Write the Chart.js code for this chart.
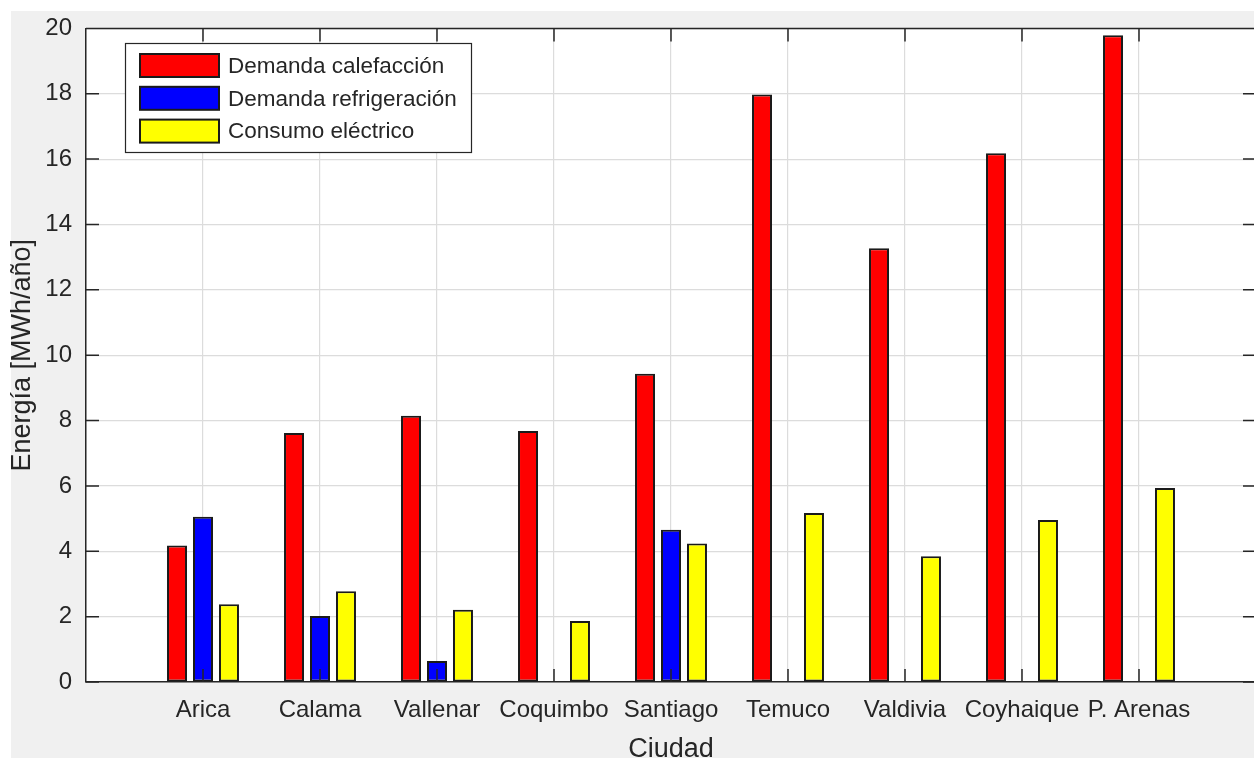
<!DOCTYPE html>
<html>
<head>
<meta charset="utf-8">
<script src="https://cdn.jsdelivr.net/npm/chart.js"></script>
<style>
  html, body { margin: 0; padding: 0; overflow: hidden; background: #ffffff; }
  #myChart { position: absolute; left: 0; top: 0; }
</style>
</head>
<body>
<canvas id="myChart" width="1270" height="770"></canvas>
<script>
// cities on the x axis
const ciudades = ["Arica", "Calama", "Vallenar", "Coquimbo", "Santiago", "Temuco", "Valdivia", "Coyhaique", "P. Arenas"];

// MWh/año
const calefaccion = [4.18, 7.62, 8.15, 7.68, 9.43, 17.98, 13.27, 16.18, 19.79];
const refrigeracion = [5.06, 2.02, 0.64, 0, 4.66, 0, 0, 0, 0];
const electrico = [2.38, 2.78, 2.21, 1.87, 4.24, 5.17, 3.85, 4.96, 5.94];

const seriesNames = ["Demanda calefacción", "Demanda refrigeración", "Consumo eléctrico"];
const seriesColors = ["#ff0000", "#0000ff", "#ffff00"];

// y ticks 0..20 step 2
const yMin = 0, yMax = 20, yStep = 2;

const axisColor = "#262626";
const fontName = "'Liberation Sans', Arial, sans-serif";

// empty slot at each end so the axis runs from 0 to 10 like matlab
const labels = [""].concat(ciudades, [""]);
function pad(arr) { return [null].concat(arr, [null]); }

// matlab look: gray figure, white axes, box with inward ticks, legend in the corner
const matlabLook = {
  id: "matlabLook",
  beforeDraw(chart) {
    const ctx = chart.ctx;
    const a = chart.chartArea;
    ctx.save();
    ctx.fillStyle = "#ffffff";
    ctx.fillRect(0, 0, chart.width, chart.height);
    ctx.fillStyle = "#f0f0f0";
    ctx.fillRect(11, 11, chart.width - 11, chart.height - 11);
    ctx.fillStyle = "#ffffff";
    ctx.fillRect(a.left, a.top, a.right - a.left, a.bottom - a.top);
    ctx.restore();
  },
  afterDraw(chart) {
    const ctx = chart.ctx;
    const a = chart.chartArea;
    const xs = chart.scales.x;
    const ys = chart.scales.y;
    const tick = 13;
    ctx.save();
    ctx.strokeStyle = axisColor;
    ctx.lineWidth = 1.5;
    ctx.beginPath();
    // top and right sides of the box
    ctx.moveTo(a.left, a.top); ctx.lineTo(a.right, a.top); ctx.lineTo(a.right, a.bottom);
    // inward ticks
    for (let v = yMin; v <= yMax; v += yStep) {
      const py = ys.getPixelForValue(v);
      ctx.moveTo(a.left, py); ctx.lineTo(a.left + tick, py);
      ctx.moveTo(a.right, py); ctx.lineTo(a.right - tick, py);
    }
    for (let i = 1; i <= ciudades.length; i++) {
      const px = xs.getPixelForValue(i);
      ctx.moveTo(px, a.bottom); ctx.lineTo(px, a.bottom - tick);
      ctx.moveTo(px, a.top); ctx.lineTo(px, a.top + tick);
    }
    ctx.stroke();

    // legend box
    const bx = 125, by = 43, bw = 346, bh = 109;
    ctx.fillStyle = "#ffffff";
    ctx.fillRect(bx, by, bw, bh);
    ctx.lineWidth = 1.2;
    ctx.strokeStyle = axisColor;
    ctx.strokeRect(bx + 0.5, by + 0.5, bw, bh);
    ctx.font = "22.5px " + fontName;
    ctx.textBaseline = "middle";
    ctx.textAlign = "left";
    chart.data.datasets.forEach((ds, i) => {
      const cy = 65.5 + i * 32.8;
      ctx.fillStyle = ds.backgroundColor;
      ctx.fillRect(140, cy - 11.5, 79, 23);
      ctx.lineWidth = 2;
      ctx.strokeStyle = "#1a1a1a";
      ctx.strokeRect(140, cy - 11.5, 79, 23);
      ctx.fillStyle = axisColor;
      ctx.fillText(ds.label, 228, cy + 1);
    });
    ctx.restore();
  }
};

const myChart = document.getElementById("myChart");

let barChart = new Chart(myChart, {
  type: "bar",
  data: {
    labels: labels,
    datasets: [
      { label: seriesNames[0], data: pad(calefaccion), backgroundColor: seriesColors[0] },
      { label: seriesNames[1], data: pad(refrigeracion), backgroundColor: seriesColors[1] },
      { label: seriesNames[2], data: pad(electrico), backgroundColor: seriesColors[2] }
    ]
  },
  options: {
    responsive: false,
    animation: false,
    devicePixelRatio: 1,
    layout: { padding: { top: 22, right: 9, left: 0, bottom: 0 } },
    datasets: {
      bar: {
        borderColor: "#1a1a1a",
        borderWidth: 2,
        borderSkipped: false,
        categoryPercentage: 0.666,
        barPercentage: 0.77
      }
    },
    plugins: {
      legend: { display: false },
      tooltip: { enabled: false }
    },
    scales: {
      x: {
        offset: false,
        grid: { offset: false, color: "#dcdcdc", lineWidth: 1.2, drawTicks: false },
        border: { display: true, color: axisColor, width: 1.5 },
        ticks: {
          autoSkip: false, maxRotation: 0, padding: 14,
          color: axisColor, font: { family: fontName, size: 24 }
        },
        title: {
          display: true, text: "Ciudad", color: axisColor,
          font: { family: fontName, size: 27 }, padding: { top: 0, bottom: 4 }
        },
        afterFit: s => { s.height = 88; }
      },
      y: {
        min: yMin, max: yMax,
        grid: { color: "#dcdcdc", lineWidth: 1.2, drawTicks: false },
        border: { display: true, color: axisColor, width: 1.5 },
        ticks: {
          stepSize: yStep, padding: 14,
          color: axisColor, font: { family: fontName, size: 24 }
        },
        title: {
          display: true, text: "Energía [MWh/año]", color: axisColor,
          font: { family: fontName, size: 27 }, padding: { top: 6, bottom: 0 }
        },
        afterFit: s => { s.width = 86; }
      }
    }
  },
  plugins: [matlabLook]
});
</script>
</body>
</html>
